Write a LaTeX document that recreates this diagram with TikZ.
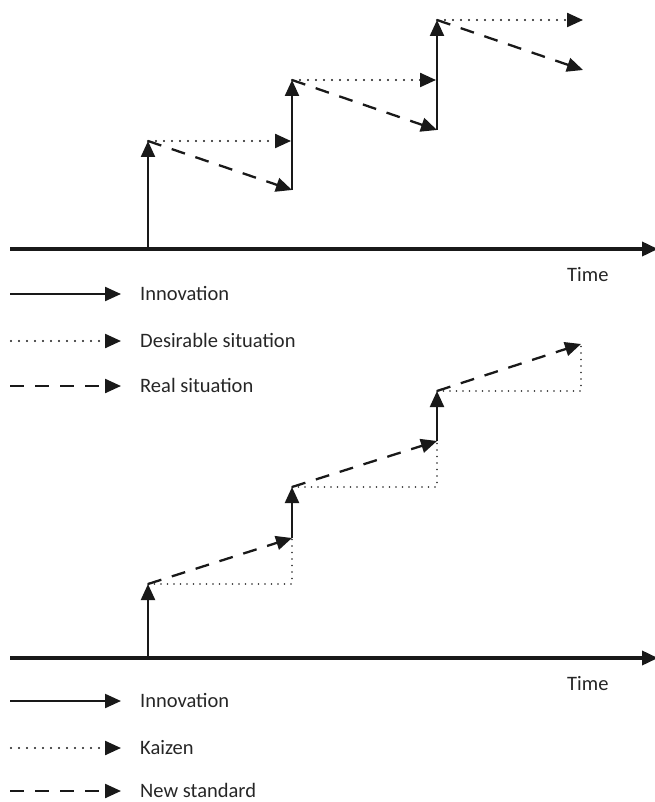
\documentclass[tikz,border=0pt]{standalone}
\usepackage{fontspec}
\setmainfont{Carlito}
\usetikzlibrary{arrows.meta}
\begin{document}
\begin{tikzpicture}[x=1pt,y=-1pt,
  tip/.style={-{Triangle[length=16pt,width=14pt]}},
  solidarrow/.style={tip,line width=2.2pt,draw=black!90},
  dotarrow/.style={tip,line width=2.3pt,line cap=round,dash pattern=on 0pt off 8pt,draw=black!90},
  dasharrow/.style={tip,line width=2.3pt,dash pattern=on 14pt off 11pt,draw=black!90},
  kaizenline/.style={line width=1.7pt,line cap=round,dash pattern=on 0pt off 6.5pt,draw=black!85},
  axis/.style={tip,line width=3.6pt,draw=black!90},
  lbl/.style={anchor=base west,inner sep=0pt,font=\fontsize{20.5}{24}\selectfont,text=black!85}]
\useasboundingbox (0,0) rectangle (654,802);
% ---------- top diagram ----------
\coordinate (ta0) at (10,249);
\coordinate (ta1) at (658,249);
\coordinate (tb0) at (148,249);
\coordinate (t1) at (148,141);
\coordinate (p1) at (291,141);
\coordinate (q1) at (292,190);
\coordinate (t2) at (292,80);
\coordinate (p2) at (436,80);
\coordinate (q2) at (437,130);
\coordinate (t3) at (437,20);
\coordinate (p3) at (583,20);
\coordinate (q3) at (583,70);
\draw[axis] (ta0) -- (ta1);
\draw[solidarrow] (tb0) -- (t1);
\draw[dotarrow] (t1) -- (p1);
\draw[dasharrow] (t1) -- (q1);
\draw[solidarrow] (q1) -- (t2);
\draw[dotarrow] (t2) -- (p2);
\draw[dasharrow] (t2) -- (q2);
\draw[solidarrow] (q2) -- (t3);
\draw[dotarrow] (t3) -- (p3);
\draw[dasharrow] (t3) -- (q3);
\node[lbl] (time1) at (567,281) {Time};
% legend 1
\coordinate (l1a) at (10,294); \coordinate (l1b) at (121,294);
\coordinate (l2a) at (11,341); \coordinate (l2b) at (121,341);
\coordinate (l3a) at (10,386); \coordinate (l3b) at (121,386);
\draw[solidarrow] (l1a) -- (l1b);
\draw[dotarrow] (l2a) -- (l2b);
\draw[dasharrow] (l3a) -- (l3b);
\node[lbl] (leg1) at (140,300.5) {Innovation};
\node[lbl] (leg2) at (140,347.5) {Desirable situation};
\node[lbl] (leg3) at (140,392.5) {Real situation};
% ---------- bottom diagram ----------
\coordinate (ba0) at (10,658);
\coordinate (ba1) at (658,658);
\coordinate (bb0) at (148,658);
\coordinate (b1) at (148,584);
\coordinate (c1) at (292,584);
\coordinate (d1) at (292,538);
\coordinate (b2) at (292,487);
\coordinate (c2) at (437,487);
\coordinate (d2) at (437,441);
\coordinate (b3) at (437,391);
\coordinate (c3) at (581,391);
\coordinate (d3) at (581,344);
\draw[axis] (ba0) -- (ba1);
\draw[solidarrow] (bb0) -- (b1);
\draw[kaizenline] (b1) -- (c1) -- (d1);
\draw[kaizenline] (b2) -- (c2) -- (d2);
\draw[kaizenline] (b3) -- (c3) -- (d3);
\draw[dasharrow] (b1) -- (d1);
\draw[solidarrow] (d1) -- (b2);
\draw[dasharrow] (b2) -- (d2);
\draw[solidarrow] (d2) -- (b3);
\draw[dasharrow] (b3) -- (d3);
\node[lbl] (time2) at (567,690) {Time};
% legend 2
\coordinate (m1a) at (10,701); \coordinate (m1b) at (121,701);
\coordinate (m2a) at (11,748); \coordinate (m2b) at (121,748);
\coordinate (m3a) at (10,791); \coordinate (m3b) at (121,791);
\draw[solidarrow] (m1a) -- (m1b);
\draw[dotarrow] (m2a) -- (m2b);
\draw[dasharrow] (m3a) -- (m3b);
\node[lbl] (leg4) at (140,707.5) {Innovation};
\node[lbl] (leg5) at (140,754.5) {Kaizen};
\node[lbl] (leg6) at (140,797) {New standard};
\end{tikzpicture}
\end{document}
